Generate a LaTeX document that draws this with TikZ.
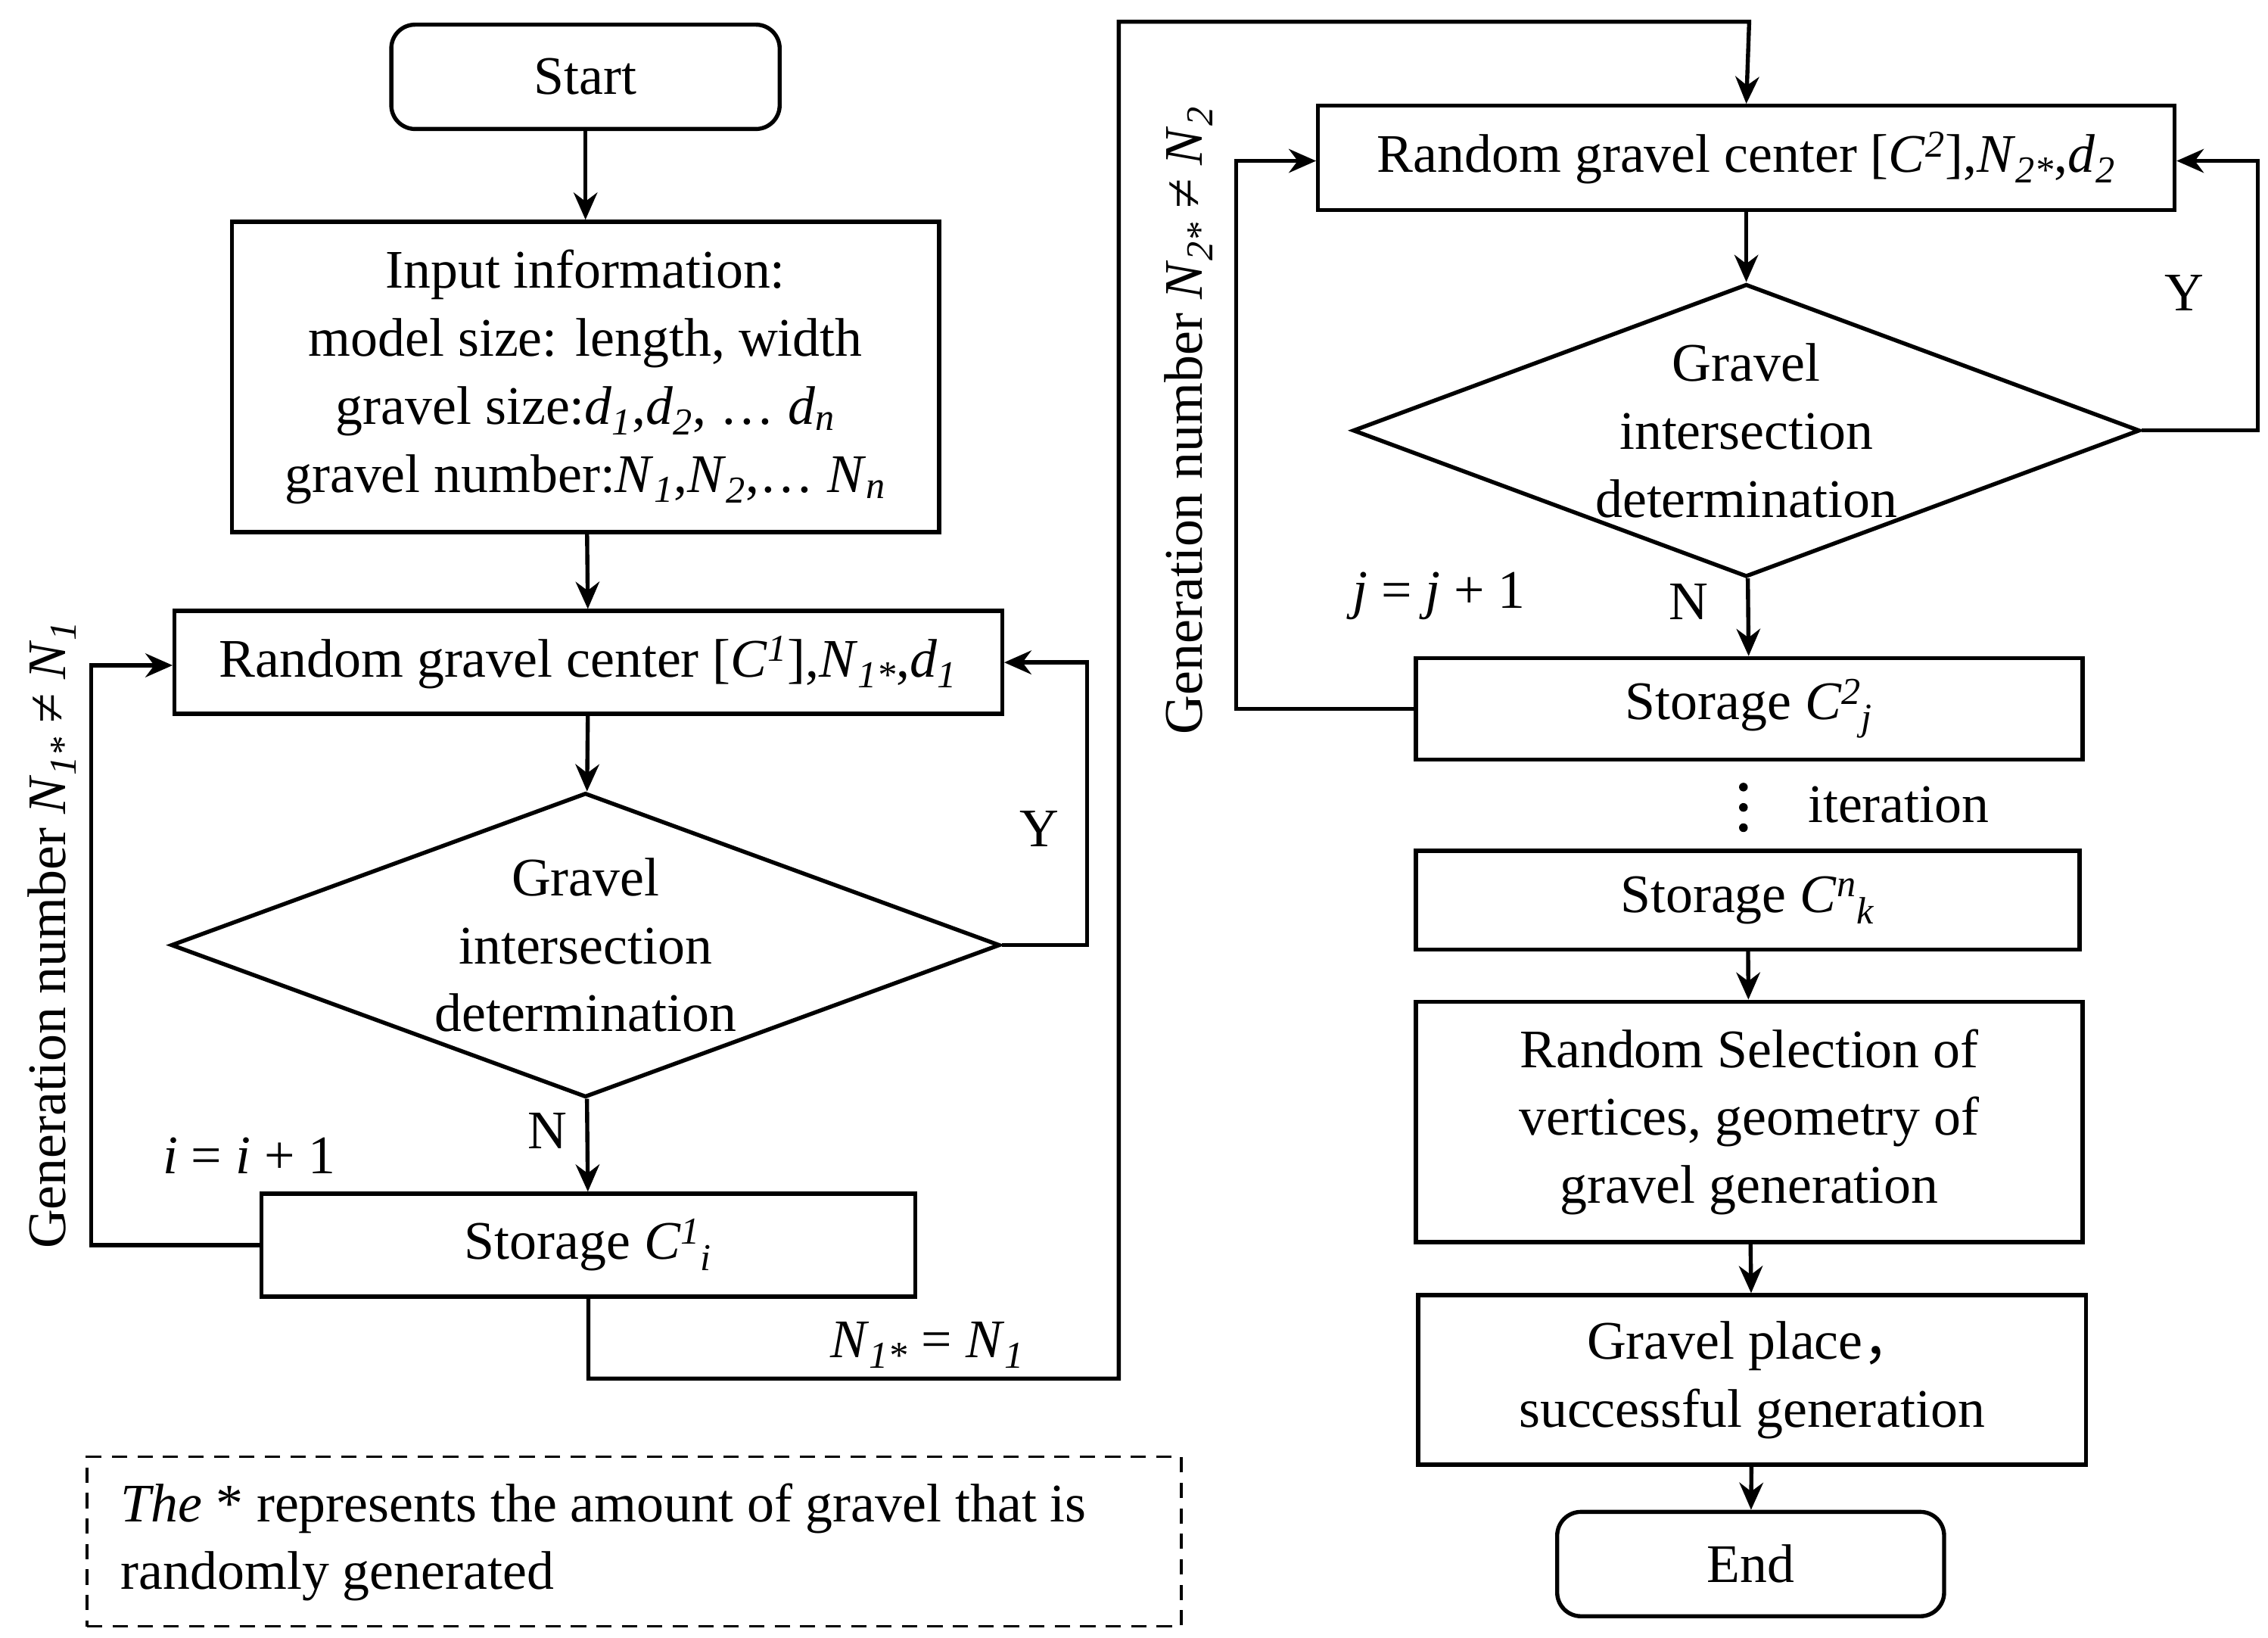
\documentclass[tikz,border=0pt]{standalone}
\usepackage{fontspec}
\setmainfont{Liberation Serif}
\newfontfamily\cjk{Noto Sans CJK SC}
\usetikzlibrary{shapes.geometric,arrows.meta}
\newcommand\vs[2]{\textit{#1}\textsubscript{\textit{#2}}}
\newcommand\vsp[3]{\textit{#1}\textsuperscript{\textit{#2}}\textsubscript{\textit{#3}}}
\begin{document}
\begin{tikzpicture}[x=0.03cm,y=-0.03cm,font=\fontsize{32}{40}\selectfont,
  line width=2.4pt,
  box/.style={draw,rectangle,inner sep=0pt,align=center},
  term/.style={box,rounded corners=14pt},
  dia/.style={draw,diamond,inner sep=0pt},
  arr/.style={-{Stealth[length=16pt,width=14pt]}},
  lab/.style={inner sep=0pt}]
\useasboundingbox (0,0) rectangle (1565,1130);
\node[term,minimum width=268*0.03cm,minimum height=72*0.03cm] (start) at (404,53) {Start};
\node[box,minimum width=488*0.03cm,minimum height=214*0.03cm] (inp) at (404,260) {Input information:\\model size: length, width\\gravel size:\vs{d}{1},\vs{d}{2}, \dots\ \vs{d}{n}\\gravel number:\vs{N}{1},\vs{N}{2},\dots\ \vs{N}{n}};
\node[box,minimum width=571*0.03cm,minimum height=71*0.03cm] (r1) at (406,457) {Random gravel center [\textit{C}\textsuperscript{\textit{1}}],\vs{N}{1*},\vs{d}{1}};
\node[dia,minimum width=572*0.03cm,minimum height=210*0.03cm] (d1) at (404,652) {};
\node[lab,align=center] (d1t) at (404,652) {Gravel\\intersection\\determination};
\node[box,minimum width=451*0.03cm,minimum height=71*0.03cm] (s1) at (406,859) {Storage \vsp{C}{1}{i}};
\node[box,minimum width=591*0.03cm,minimum height=72*0.03cm] (r2) at (1205,109) {Random gravel center [\textit{C}\textsuperscript{\textit{2}}],\vs{N}{2*},\vs{d}{2}};
\node[dia,minimum width=543*0.03cm,minimum height=202*0.03cm] (d2) at (1205,297) {};
\node[lab,align=center] (d2t) at (1205,297) {Gravel\\intersection\\determination};
\node[box,minimum width=460*0.03cm,minimum height=70*0.03cm] (s2) at (1207,489) {Storage \vsp{C}{2}{j}};
\node[box,minimum width=458*0.03cm,minimum height=68*0.03cm] (s3) at (1206,621) {Storage \vsp{C}{n}{k}};
\node[box,minimum width=460*0.03cm,minimum height=166*0.03cm] (r3) at (1207,774) {Random Selection of\\vertices, geometry of\\gravel generation};
\node[box,minimum width=461*0.03cm,minimum height=117*0.03cm] (g) at (1209,952) {Gravel place{\cjk ，}\\successful generation};
\node[term,minimum width=267*0.03cm,minimum height=72*0.03cm] (end) at (1208,1079) {End};
\node[draw,dash pattern=on 9pt off 6pt,line width=1.6pt,minimum width=755*0.03cm,minimum height=117*0.03cm] (note) at (437.5,1063.5) {};
\node[lab,anchor=west,align=left] (notet) at (82,1064) {\textit{The} * represents the amount of gravel that is\\randomly generated};
\coordinate (c1) at (63,859); \coordinate (c2) at (63,459);
\coordinate (c3) at (750,652); \coordinate (c4) at (750,457);
\coordinate (c5) at (406,951); \coordinate (c6) at (772,951); \coordinate (c7) at (772,15); \coordinate (c8) at (1207,15);
\coordinate (c9) at (1558,297); \coordinate (c10) at (1558,111);
\coordinate (c11) at (853,489); \coordinate (c12) at (853,111);
\draw[arr] (start) -- (inp);
\draw[arr] (inp) -- (r1);
\draw[arr] (r1) -- (d1);
\draw[arr] (d1) -- (s1);
\draw[arr] (s1.west) -- (c1) -- (c2) -- (r1.west |- c2);
\draw[arr] (d1.east) -- (c3) -- (c4) -- (r1.east);
\draw[arr] (s1.south) -- (c5) -- (c6) -- (c7) -- (c8) -- (r2.north);
\draw[arr] (r2) -- (d2);
\draw[arr] (d2) -- (s2);
\draw[arr] (d2.east) -- (c9) -- (c10) -- (r2.east |- c10);
\draw[arr] (s2.west) -- (c11) -- (c12) -- (r2.west |- c12);
\draw[arr] (s3) -- (r3);
\draw[arr] (r3) -- (g);
\draw[arr] (g) -- (end);
\node[lab] (y1) at (717,572) {Y};
\node[lab] (n1) at (378,780) {N};
\node[lab] (i1) at (172,797) {\textit{i} = \textit{i} + 1};
\node[lab] (y2) at (1507,202) {Y};
\node[lab] (n2) at (1165,415) {N};
\node[lab] (j1) at (993,411) {\textit{j} = \textit{j} + 1};
\node[lab] (eq) at (640,928) {\vs{N}{1*} = \vs{N}{1}};
\node[lab] (it) at (1310,555) {iteration};
\foreach \yy in {543,557,571} \fill (1203,\yy) circle (3);
\node[lab,rotate=90] (g1) at (36,645) {Generation number \vs{N}{1*} ≠ \vs{N}{1}};
\node[lab,rotate=90] (g2) at (820,290) {Generation number \vs{N}{2*} ≠ \vs{N}{2}};
\end{tikzpicture}
\end{document}
